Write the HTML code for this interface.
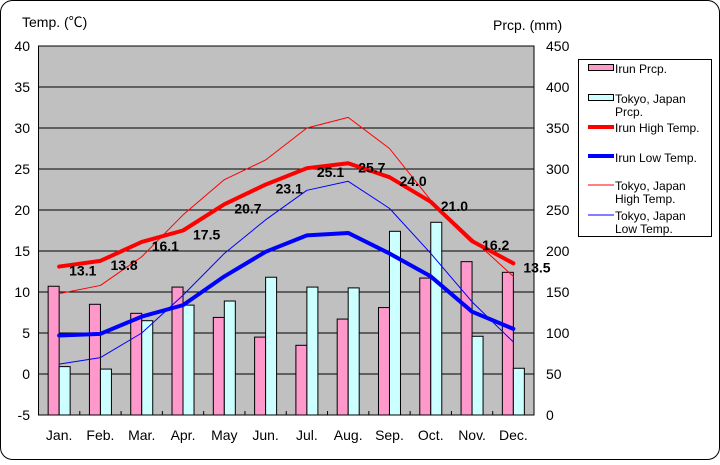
<!DOCTYPE html>
<html><head><meta charset="utf-8"><style>
html,body{margin:0;padding:0;background:#fff}
svg text{font-family:"Liberation Sans","Noto Sans CJK JP",sans-serif}
</style></head><body>
<svg id="chart" width="720" height="460" xmlns="http://www.w3.org/2000/svg">
<rect x="0.5" y="0.5" width="719" height="459" rx="12" fill="#fff" stroke="#000"/>
<rect x="38.5" y="46" width="495.5" height="369" fill="#c0c0c0" stroke="#000"/>
<g id="grid"></g><g id="bars"></g><g id="lines"></g><g id="labels"></g><g id="axes"></g>
<text x="22" y="27" font-size="14">Temp. (℃)</text>
<text x="493" y="30" font-size="14">Prcp. (mm)</text>
<g>
<rect x="578.5" y="59.5" width="133" height="177" fill="#fff" stroke="#000"/>
<rect x="588.5" y="64.5" width="25" height="6" fill="#ff99cc" stroke="#000"/>
<text x="615" y="73" font-size="12">Irun Prcp.</text>
<rect x="588.5" y="94.5" width="25" height="6" fill="#ccffff" stroke="#000"/>
<text x="615" y="103" font-size="12"><tspan x="615">Tokyo, Japan</tspan><tspan x="615" dy="13">Prcp.</tspan></text>
<line x1="588" y1="127" x2="614" y2="127" stroke="#f00" stroke-width="4"/>
<text x="615" y="132" font-size="12">Irun High Temp.</text>
<line x1="588" y1="156" x2="614" y2="156" stroke="#00f" stroke-width="4"/>
<text x="615" y="162" font-size="12">Irun Low Temp.</text>
<line x1="588" y1="185" x2="614" y2="185" stroke="#f00" stroke-width="1"/>
<text x="615" y="190" font-size="12"><tspan x="615">Tokyo, Japan</tspan><tspan x="615" dy="13">High Temp.</tspan></text>
<line x1="588" y1="215" x2="614" y2="215" stroke="#00f" stroke-width="1"/>
<text x="615" y="220" font-size="12"><tspan x="615">Tokyo, Japan</tspan><tspan x="615" dy="13">Low Temp.</tspan></text>
</g>
</svg>
<script>
const months = ["Jan.","Feb.","Mar.","Apr.","May","Jun.","Jul.","Aug.","Sep.","Oct.","Nov.","Dec."];
const irunPrcp = [157,135,124,156,119,95,85,117,131,167,187,174];
const tokyoPrcp = [59,56,115,134,139,168,156,155,224,235,96,57];
const irunHigh = [13.1,13.8,16.1,17.5,20.7,23.1,25.1,25.7,24.0,21.0,16.2,13.5];
const irunLow = [4.7,4.9,7.0,8.4,11.9,14.9,16.9,17.2,14.7,11.9,7.6,5.5];
const tokyoHigh = [9.8,10.8,14.3,19.4,23.7,26.1,30.0,31.3,27.5,21.2,16.5,11.9];
const tokyoLow = [1.2,2.0,5.0,9.6,14.7,18.8,22.4,23.5,20.2,14.7,8.8,3.9];
const tempTicks = [-5,0,5,10,15,20,25,30,35,40];
const prcpTicks = [0,50,100,150,200,250,300,350,400,450];

const NS="http://www.w3.org/2000/svg";
const L=38.5,R=534,T=46,B=415;
const bw=(R-L)/12;
const xC=i=>L+bw*(i+0.5);
const yT=v=>B-(v+5)*(B-T)/45;
const yP=v=>B-v*(B-T)/450;
function mk(tag,attrs,parent){const e=document.createElementNS(NS,tag);for(const k in attrs)e.setAttribute(k,attrs[k]);document.getElementById(parent).appendChild(e);return e;}

tempTicks.forEach((t,i)=>{
  if(t>-5&&t<40){const g=mk('line',{x1:L,x2:R,y1:yT(t),y2:yT(t),stroke:'#000'},'grid');
  
  }
  const tx=mk('text',{x:30,y:yT(t)+5,'font-size':14,'text-anchor':'end'},'axes');tx.textContent=t;
  
  
});
prcpTicks.forEach(p=>{
  const tx=mk('text',{x:546,y:yP(p)+5,'font-size':14},'axes');tx.textContent=p;
  
  
});
months.forEach((m,i)=>{
  const tx=mk('text',{x:xC(i),y:440,'font-size':14,'text-anchor':'middle'},'axes');tx.textContent=m;
  
  
  if(i>0){const tk=mk('line',{x1:L+bw*i,x2:L+bw*i,y1:B,y2:B-4,stroke:'#000'},'axes');
  
  }
  const b1=mk('rect',{x:xC(i)-11,y:yP(irunPrcp[i]),width:11,height:B-yP(irunPrcp[i]),fill:'#ff99cc',stroke:'#000'},'bars');
  
  
  const b2=mk('rect',{x:xC(i),y:yP(tokyoPrcp[i]),width:11,height:B-yP(tokyoPrcp[i]),fill:'#ccffff',stroke:'#000'},'bars');
  
  
});
function line(arr,color,w,name){
  const p=mk('polyline',{points:arr.map((v,i)=>xC(i)+','+yT(v)).join(' '),fill:'none',stroke:color,'stroke-width':w,'stroke-linejoin':'round','stroke-linecap':'round'},'lines');
  
  
}
line(tokyoHigh,'#f00',1,'line-tokyo-high');
line(tokyoLow,'#00f',1,'line-tokyo-low');
line(irunHigh,'#f00',4,'line-irun-high');
line(irunLow,'#00f',4,'line-irun-low');
irunHigh.forEach((v,i)=>{
  const tx=mk('text',{x:xC(i)+10,y:yT(v)+9,'font-size':14,'font-weight':'bold'},'labels');tx.textContent=v.toFixed(1);
  
  
});
</script>
</body></html>
